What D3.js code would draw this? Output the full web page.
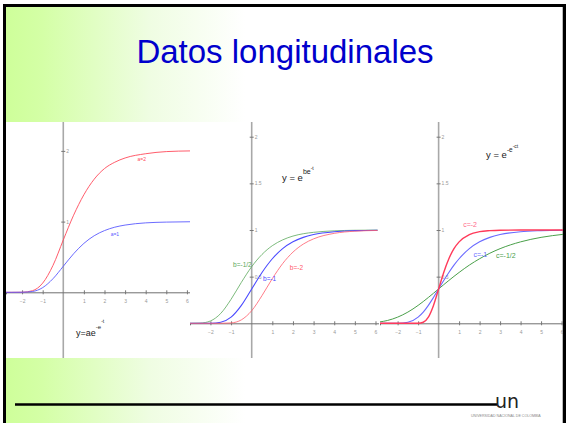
<!DOCTYPE html>
<html>
<head>
<meta charset="utf-8">
<script src="https://cdn.jsdelivr.net/npm/d3@7"></script>
<style>
  body { margin: 0; background: #fff; }
  svg { display: block; font-family: "Liberation Sans", Arial, sans-serif; }
</style>
</head>
<body>
<svg id="slide" width="566" height="423"></svg>
<script>
// panel 1: y = a e^(-e^(-t))
const t1 = [-2.8, -2.5, -2, -1.5, -1, -0.5, 0, 0.5, 1, 1.5, 2, 2.5, 3, 4, 5, 6.2];
const p1Red = [0, 0, 0.001, 0.022, 0.13, 0.38, 0.74, 1.09, 1.38, 1.6, 1.75, 1.84, 1.9, 1.96, 1.99, 2.0];
const p1Blue = [0, 0, 0.001, 0.011, 0.066, 0.192, 0.368, 0.545, 0.692, 0.8, 0.873, 0.921, 0.951, 0.982, 0.993, 0.998];

// panel 2: y = e^(b e^(-t))
const t2 = [-3, -2.5, -2, -1.5, -1, -0.5, 0, 0.5, 1, 1.5, 2, 2.5, 3, 4, 5, 6.1];
const p2Green = [0, 0.002, 0.025, 0.106, 0.257, 0.439, 0.607, 0.738, 0.832, 0.894, 0.935, 0.96, 0.975, 0.991, 0.997, 0.999];
const p2Blue = [0, 0, 0.001, 0.011, 0.066, 0.192, 0.368, 0.545, 0.692, 0.8, 0.873, 0.921, 0.951, 0.982, 0.993, 0.998];
const p2Red = [0, 0, 0, 0, 0.004, 0.037, 0.135, 0.297, 0.479, 0.64, 0.763, 0.849, 0.905, 0.964, 0.987, 0.995];

// panel 3: y = e^(-e^(-ct))
const t3 = [-2.9, -2.5, -2, -1.5, -1, -0.75, -0.5, -0.25, 0, 0.25, 0.5, 0.75, 1, 1.5, 2, 2.5, 3, 4, 5, 6.1];
const p3Red = [0, 0, 0, 0, 0.001, 0.011, 0.066, 0.192, 0.368, 0.545, 0.692, 0.8, 0.873, 0.951, 0.982, 0.993, 0.998, 1, 1, 1];
const p3Blue = [0, 0, 0.001, 0.011, 0.066, 0.12, 0.192, 0.277, 0.368, 0.459, 0.545, 0.624, 0.692, 0.8, 0.873, 0.921, 0.951, 0.982, 0.993, 0.998];
const p3Green = [0.014, 0.03, 0.066, 0.12, 0.192, 0.233, 0.277, 0.322, 0.368, 0.414, 0.459, 0.503, 0.545, 0.624, 0.692, 0.751, 0.8, 0.873, 0.921, 0.954];

const xTicks = [-2, -1, 1, 2, 3, 4, 5, 6];
const yTicks1 = [1, 2];
const yTicks23 = [0.5, 1, 1.5, 2];

const svg = d3.select("#slide");
const defs = svg.append("defs");

const grad = defs.append("linearGradient")
    .attr("id", "greenFade")
    .attr("gradientUnits", "userSpaceOnUse")
    .attr("x1", 6).attr("x2", 245).attr("y1", 0).attr("y2", 0);
grad.append("stop").attr("offset", "0").attr("stop-color", "#ceff9a");
grad.append("stop").attr("offset", "0.15").attr("stop-color", "#d4ffa6");
grad.append("stop").attr("offset", "0.6").attr("stop-color", "#effde2");
grad.append("stop").attr("offset", "1").attr("stop-color", "#ffffff");

// background bands
svg.append("rect").attr("x", 0).attr("y", 0).attr("width", 566).attr("height", 423).attr("fill", "#fff");
svg.append("rect").attr("x", 6).attr("y", 7).attr("width", 557).attr("height", 115).attr("fill", "url(#greenFade)");
svg.append("rect").attr("x", 6).attr("y", 358).attr("width", 557).attr("height", 65).attr("fill", "url(#greenFade)");

// frame
svg.append("rect").attr("x", 3).attr("y", 4).attr("width", 563).attr("height", 3).attr("fill", "#000");
svg.append("rect").attr("x", 3).attr("y", 4).attr("width", 3).attr("height", 419).attr("fill", "#000");
svg.append("rect").attr("x", 563).attr("y", 4).attr("width", 3).attr("height", 419).attr("fill", "#000");
svg.append("line").attr("x1", 562.5).attr("x2", 562.5).attr("y1", 7).attr("y2", 423)
    .attr("stroke", "#bbb").attr("stroke-width", 1);

// title
svg.append("text")
    .attr("x", 285).attr("y", 63)
    .attr("text-anchor", "middle")
    .attr("font-size", 33)
    .attr("fill", "#0000cc")
    .text("Datos longitudinales");

function drawPanel(cfg) {
    const x = d3.scaleLinear().domain(cfg.xDomain).range(cfg.xRange);
    const y = d3.scaleLinear().domain([0, cfg.yUnit]).range(cfg.yRange);
    const id = "clip" + cfg.name;
    defs.append("clipPath").attr("id", id)
        .append("rect")
        .attr("x", cfg.xRange[0]).attr("y", 122)
        .attr("width", cfg.xRange[1] - cfg.xRange[0]).attr("height", 236);

    const g = svg.append("g").attr("clip-path", `url(#${id})`);

    // y axis line
    g.append("line")
        .attr("x1", x(0)).attr("x2", x(0)).attr("y1", 122).attr("y2", 358)
        .attr("stroke", "#a8a8a8").attr("stroke-width", 1.6);

    // x axis
    const xAxis = g.append("g")
        .attr("transform", `translate(0,${y(0)})`)
        .call(d3.axisBottom(x).tickValues(xTicks).tickSize(2).tickPadding(5).tickFormat(d3.format("d")));
    xAxis.select(".domain").attr("stroke", "#707070").attr("stroke-width", 1);
    xAxis.selectAll(".tick line").attr("y1", -2).attr("stroke", "#777");
    xAxis.selectAll(".tick text").attr("font-size", 5).attr("fill", "#999").attr("font-family", "Liberation Sans, Arial");

    // y axis ticks
    const yAxis = g.append("g")
        .attr("transform", `translate(${x(0)},0)`)
        .call(d3.axisRight(y).tickValues(cfg.yTicks).tickSize(2).tickPadding(1).tickFormat(d => d));
    yAxis.select(".domain").remove();
    yAxis.selectAll(".tick line").attr("x1", -2).attr("stroke", "#777");
    yAxis.selectAll(".tick text").attr("font-size", 5).attr("fill", "#999").attr("font-family", "Liberation Sans, Arial");

    const line = d3.line()
        .x(d => x(d[0]))
        .y(d => y(d[1]))
        .curve(d3.curveMonotoneX);

    cfg.series.forEach(s => {
        g.append("path")
            .datum(cfg.t.map((t, i) => [t, s.values[i]]))
            .attr("fill", "none")
            .attr("stroke", s.color)
            .attr("stroke-width", s.width)
            .attr("d", line);
    });

    cfg.labels.forEach(l => {
        g.append("text")
            .attr("x", x(l.t)).attr("y", y(l.v))
            .attr("font-size", l.size)
            .attr("fill", l.color)
            .text(l.text);
    });

    return { x, y, g };
}

drawPanel({
    name: "p1",
    xDomain: [-2.78, 6.15], xRange: [6, 190],
    yUnit: 2, yRange: [292.3, 150.9],
    yTicks: yTicks1,
    t: t1,
    series: [
        { values: p1Red, color: "#ff4a5a", width: 0.9 },
        { values: p1Blue, color: "#5a5aff", width: 0.9 }
    ],
    labels: [
        { text: "a=2", t: 3.6, v: 1.86, size: 5, color: "#ff4a5a" },
        { text: "a=1", t: 2.3, v: 0.79, size: 5, color: "#5a5aff" }
    ]
});

drawPanel({
    name: "p2",
    xDomain: [-2.99, 6.17], xRange: [190, 379],
    yUnit: 1, yRange: [323.3, 230],
    yTicks: yTicks23,
    t: t2,
    series: [
        { values: p2Green, color: "#5aa85a", width: 0.8 },
        { values: p2Blue, color: "#4a4aff", width: 1.1 },
        { values: p2Red, color: "#ff5a6a", width: 0.8 }
    ],
    labels: [
        { text: "b=-1/2", t: -0.9, v: 0.6, size: 6.5, color: "#5aa85a" },
        { text: "b=-1", t: 0.55, v: 0.45, size: 6.5, color: "#4a4aff" },
        { text: "b=-2", t: 1.85, v: 0.57, size: 6.5, color: "#ff5a6a" }
    ]
});

drawPanel({
    name: "p3",
    xDomain: [-2.86, 6.07], xRange: [380, 563],
    yUnit: 1, yRange: [323.3, 230],
    yTicks: yTicks23,
    t: t3,
    series: [
        { values: p3Green, color: "#4aa04a", width: 1 },
        { values: p3Blue, color: "#6a6aff", width: 1.1 },
        { values: p3Red, color: "#ff3a5a", width: 1.4 }
    ],
    labels: [
        { text: "c=-2", t: 1.2, v: 1.03, size: 7, color: "#ff6a8a" },
        { text: "c=-1", t: 1.7, v: 0.71, size: 7, color: "#6a6aff" },
        { text: "c=-1/2", t: 2.8, v: 0.7, size: 7, color: "#4aa04a" }
    ]
});

// formulas
function formula(x0, base, parts) {
    const t = svg.append("text").attr("x", x0).attr("y", base).attr("fill", "#222");
    parts.forEach(p => {
        t.append("tspan").attr("font-size", p.size).attr("dy", p.dy || 0).text(p.text);
    });
}
formula(76, 336, [
    { text: "y=ae", size: 9 },
    { text: "-e", size: 6, dy: -7 },
    { text: "-t", size: 5, dy: -6 }
]);
formula(282, 181, [
    { text: "y = e", size: 9.5 },
    { text: "be", size: 7, dy: -7 },
    { text: "-t", size: 5, dy: -4 }
]);
formula(486, 158, [
    { text: "y = e", size: 9.5 },
    { text: "-e", size: 6.5, dy: -6 },
    { text: "-ct", size: 5, dy: -4 }
]);

// footer line and logo
svg.append("line")
    .attr("x1", 15).attr("x2", 497).attr("y1", 404.5).attr("y2", 404.5)
    .attr("stroke", "#000").attr("stroke-width", 2.5);
svg.append("text")
    .attr("x", 495).attr("y", 407.5)
    .attr("font-size", 19)
    .attr("font-family", "DejaVu Sans, sans-serif")
    .attr("fill", "#222")
    .text("un");
svg.append("text")
    .attr("x", 471).attr("y", 416.5)
    .attr("font-size", 3.6)
    .attr("fill", "#888")
    .text("UNIVERSIDAD NACIONAL DE COLOMBIA");
</script>
</body>
</html>
